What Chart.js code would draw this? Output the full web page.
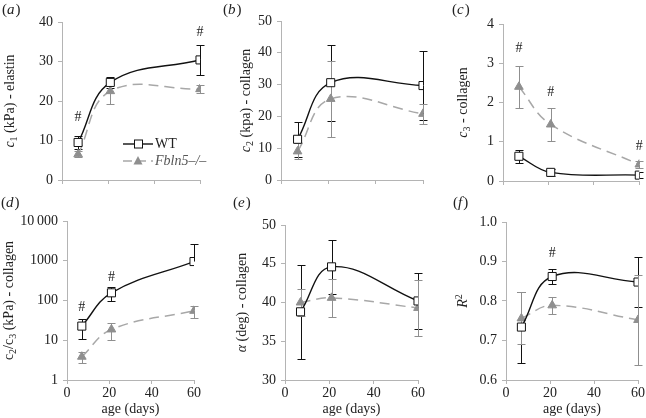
<!DOCTYPE html>
<html><head><meta charset="utf-8">
<script src="https://cdn.jsdelivr.net/npm/chart.js@4.4.0/dist/chart.umd.min.js"></script>
<style>
html,body{margin:0;padding:0;background:#fff}
body{width:646px;height:418px;overflow:hidden;position:relative}
canvas{position:absolute}
</style></head><body>
<canvas id="ca" style="left:0;top:0" width="215" height="200"></canvas>
<canvas id="cb" style="left:215px;top:0" width="215" height="200"></canvas>
<canvas id="cc" style="left:430px;top:0" width="216" height="200"></canvas>
<canvas id="cd" style="left:0;top:190px" width="215" height="228"></canvas>
<canvas id="ce" style="left:215px;top:190px" width="215" height="228"></canvas>
<canvas id="cf" style="left:430px;top:190px" width="216" height="228"></canvas>
<script>
// ---------- data ----------
const ages = [7, 21, 60];
const xTicks = [0, 20, 40, 60];
const xTickLabels = ['0', '20', '40', '60'];

// (a) c1 elastin
const c1WT = [9.5, 24.7, 30.4];
const c1WTerr = [1.6, 1.5, 3.7];
const c1KO = [6.5, 22.5, 23.0];
const c1KOerr = [0.8, 3.3, 1.1];
const yTicksA = [0, 10, 20, 30, 40];
const yLabelsA = ['0', '10', '20', '30', '40'];
const hashAx = [7, 60];
const hashAy = [15.9, 37.5];

// (b) c2 collagen
const c2WT = [12.8, 30.6, 29.7];
const c2WTerr = [5.5, 12.0, 10.8];
const c2KO = [9.0, 25.5, 20.8];
const c2KOerr = [2.5, 12.0, 3.2];
const yTicksB = [0, 10, 20, 30, 40, 50];
const yLabelsB = ['0', '10', '20', '30', '40', '50'];

// (c) c3 collagen
const c3WT = [0.63, 0.22, 0.15];
const c3WTerr = [0.17, 0.08, 0.07];
const c3KO = [2.40, 1.44, 0.42];
const c3KOerr = [0.54, 0.42, 0.08];
const yTicksC = [0, 1, 2, 3, 4];
const yLabelsC = ['0', '1', '2', '3', '4'];
const hashCx = [7, 21, 60];
const hashCy = [3.37, 2.25, 0.89];

// (d) c2/c3 collagen (log)
const ratioWT = [22.7, 156, 955];
const ratioWTerr = [11.7, 57, 1745];
const ratioKO = [3.85, 18.7, 55];
const ratioKOerr = [1.2, 8.8, 18];
const yTicksD = [1, 10, 100, 1000, 10000];
const yLabelsD = ['1', '10', '100', '1000', '10\u2009000'];
const hashDx = [7, 21];
const hashDy = [68.6, 390];

// (e) alpha
const alphaWT = [38.8, 44.6, 40.2];
const alphaWTerr = [6.1, 3.45, 3.6];
const alphaKO = [40.0, 40.6, 39.3];
const alphaKOerr = [1.7, 2.45, 3.6];
const yTicksE = [30, 35, 40, 45, 50];
const yLabelsE = ['30', '35', '40', '45', '50'];

// (f) R^2
const r2WT = [0.734, 0.862, 0.848];
const r2WTerr = [0.09, 0.019, 0.064];
const r2KO = [0.756, 0.789, 0.752];
const r2KOerr = [0.066, 0.022, 0.115];
const yTicksF = [0.6, 0.7, 0.8, 0.9, 1.0];
const yLabelsF = ['0.6', '0.7', '0.8', '0.9', '1.0'];
const hashFx = [21];
const hashFy = [0.9215];

// ---------- styling ----------
const FAM = '"Liberation Serif","Times New Roman",serif';
const AXIS = '#b4b4b4';
const TXT = '#222';
const WTC = '#111';
const KOC = '#8f8f8f';
const KOLINE = '#a8a8a8';

const errorBars = {
  id: 'errorBars',
  beforeDatasetsDraw(chart) {
    const ctx = chart.ctx, xs = chart.scales.x, ys = chart.scales.y;
    chart.data.datasets.forEach(ds => {
      if (!ds.errs) return;
      ctx.save();
      ctx.strokeStyle = ds.errColor; ctx.lineWidth = 1;
      ds.data.forEach((p, j) => {
        const e = ds.errs[j];
        const px = Math.round(xs.getPixelForValue(p.x)) + 0.5;
        const py = ys.getPixelForValue(p.y);
        const hi = Math.round(ys.getPixelForValue(p.y + e)) + 0.5;
        ctx.beginPath();
        ctx.moveTo(px, py); ctx.lineTo(px, hi);
        ctx.moveTo(px - 4, hi); ctx.lineTo(px + 4, hi);
        if (p.y - e > 0 || ys.type !== 'logarithmic') {
          const lo = Math.round(ys.getPixelForValue(p.y - e)) + 0.5;
          ctx.moveTo(px, py); ctx.lineTo(px, lo);
          ctx.moveTo(px - 4, lo); ctx.lineTo(px + 4, lo);
        }
        ctx.stroke();
      });
      ctx.restore();
    });
  }
};

const decor = {
  id: 'decor',
  afterDraw(chart, args, o) {
    const ctx = chart.ctx, xs = chart.scales.x, ys = chart.scales.y, ca = chart.chartArea;
    ctx.save();
    ctx.fillStyle = TXT;
    ctx.textBaseline = 'middle';
    // hashes
    if (o.hx) {
      ctx.font = '14px ' + FAM; ctx.textAlign = 'center';
      o.hx.forEach((hx, i) => ctx.fillText('#', xs.getPixelForValue(hx), ys.getPixelForValue(o.hy[i])));
    }
    // panel label
    ctx.textAlign = 'left';
    let x = o.px;
    ctx.font = '15px ' + FAM; ctx.fillText('(', x, o.py); x += ctx.measureText('(').width;
    ctx.font = 'italic 15px ' + FAM; ctx.fillText(o.letter, x, o.py); x += ctx.measureText(o.letter).width + 1;
    ctx.font = '15px ' + FAM; ctx.fillText(')', x, o.py);
    // y title (rotated rich text)
    const segs = o.title;
    const fontFor = s => (s.i ? 'italic ' : '') + ((s.sub || s.sup) ? '10px ' : '14px ') + FAM;
    let total = 0;
    segs.forEach(s => { ctx.font = fontFor(s); total += ctx.measureText(s.t).width; });
    ctx.translate(o.tx, (ca.top + ca.bottom) / 2);
    ctx.rotate(-Math.PI / 2);
    let cx = -total / 2;
    segs.forEach(s => {
      ctx.font = fontFor(s);
      const dy = s.sub ? 4 : (s.sup ? -4 : 0);
      ctx.fillText(s.t, cx, dy);
      cx += ctx.measureText(s.t).width;
    });
    ctx.restore();
    // legend
    if (o.legend) {
      const L = o.legend;
      ctx.save();
      ctx.lineWidth = 1.4; ctx.strokeStyle = WTC;
      ctx.beginPath(); ctx.moveTo(L.x, L.y1); ctx.lineTo(L.x + 30, L.y1); ctx.stroke();
      ctx.fillStyle = '#fff'; ctx.lineWidth = 1;
      ctx.fillRect(L.x + 11.5, L.y1 - 4, 8, 8); ctx.strokeRect(L.x + 11.5, L.y1 - 4, 8, 8);
      ctx.strokeStyle = KOLINE; ctx.lineWidth = 1.5; ctx.setLineDash([9, 5]);
      ctx.beginPath(); ctx.moveTo(L.x, L.y2); ctx.lineTo(L.x + 30, L.y2); ctx.stroke();
      ctx.setLineDash([]);
      ctx.fillStyle = KOC;
      ctx.beginPath(); ctx.moveTo(L.x + 15, L.y2 - 5); ctx.lineTo(L.x + 19.5, L.y2 + 3.5); ctx.lineTo(L.x + 10.5, L.y2 + 3.5); ctx.closePath(); ctx.fill();
      ctx.textBaseline = 'middle'; ctx.textAlign = 'left';
      ctx.fillStyle = TXT; ctx.font = '14px ' + FAM; ctx.fillText('WT', L.x + 32, L.y1);
      ctx.fillStyle = '#555'; ctx.font = 'italic 14px ' + FAM; ctx.fillText('Fbln5\u2013/\u2013', L.x + 32, L.y2);
      ctx.restore();
    }
  }
};

function makeChart(id, o) {
  const wt = {
    label: 'WT', data: ages.map((a, i) => ({ x: a, y: o.wt[i] })), errs: o.wtErr, errColor: WTC,
    borderColor: WTC, borderWidth: 1.4, tension: 0.4, fill: false,
    pointStyle: 'rect', pointRadius: 5.7, pointBackgroundColor: '#fff', pointBorderColor: WTC, pointBorderWidth: 1
  };
  const ko = {
    label: 'Fbln5\u2013/\u2013', data: ages.map((a, i) => ({ x: a, y: o.ko[i] })), errs: o.koErr, errColor: KOC,
    borderColor: KOLINE, borderWidth: 1.5, borderDash: [10, 6], tension: 0.4, fill: false,
    pointStyle: 'triangle', pointRadius: 5, pointBackgroundColor: KOC, pointBorderColor: KOC, pointBorderWidth: 1
  };
  const tickFont = { family: FAM, size: 14 };
  return new Chart(document.getElementById(id), {
    type: 'line',
    data: { datasets: [wt, ko] },
    options: {
      responsive: false, animation: false, devicePixelRatio: 1,
      layout: { padding: { left: 0, right: o.pr, top: o.top, bottom: 0 } },
      plugins: {
        legend: { display: false }, tooltip: { enabled: false },
        decor: { hx: o.hx, hy: o.hy, letter: o.letter, px: o.lx, py: o.ly, title: o.title, tx: o.tx, legend: o.legend }
      },
      scales: {
        x: {
          type: 'linear', min: 0, max: 60,
          afterBuildTicks: s => { s.ticks = xTicks.map(v => ({ value: v })); },
          ticks: { callback: (v, i) => o.xlab ? xTickLabels[i] : '', font: tickFont, color: TXT, padding: 1, maxRotation: 0, autoSkip: false },
          grid: { drawOnChartArea: false, drawTicks: true, tickLength: 4, color: AXIS },
          border: { color: AXIS },
          title: { display: !!o.xlab, text: 'age (days)', font: { family: FAM, size: 14 }, color: TXT, padding: 0 },
          afterFit: s => { s.height = o.xh; }
        },
        y: {
          type: o.log ? 'logarithmic' : 'linear', min: o.yt[0], max: o.yt[o.yt.length - 1],
          afterBuildTicks: s => { s.ticks = o.yt.map(v => ({ value: v })); },
          ticks: { callback: (v, i) => o.yl[i], font: tickFont, color: TXT, padding: 5, autoSkip: false },
          grid: { drawOnChartArea: false, drawTicks: true, tickLength: 4, color: AXIS },
          border: { color: AXIS },
          afterFit: s => { s.width = o.left; }
        }
      }
    },
    plugins: [errorBars, decor]
  });
}

makeChart('ca', { wt: c1WT, wtErr: c1WTerr, ko: c1KO, koErr: c1KOerr, yt: yTicksA, yl: yLabelsA,
  left: 62, pr: 15, top: 22, xh: 20, hx: hashAx, hy: hashAy, letter: 'a', lx: 2, ly: 10, tx: 10,
  title: [{ t: 'c', i: 1 }, { t: '1', sub: 1 }, { t: ' (kPa) - elastin' }],
  legend: { x: 123, y1: 144, y2: 161 } });
makeChart('cb', { wt: c2WT, wtErr: c2WTerr, ko: c2KO, koErr: c2KOerr, yt: yTicksB, yl: yLabelsB,
  left: 66, pr: 7, top: 21, xh: 20, letter: 'b', lx: 8, ly: 10, tx: 31,
  title: [{ t: 'c', i: 1 }, { t: '2', sub: 1 }, { t: ' (kpa) - collagen' }] });
makeChart('cc', { wt: c3WT, wtErr: c3WTerr, ko: c3KO, koErr: c3KOerr, yt: yTicksC, yl: yLabelsC,
  left: 73, pr: 4, top: 24, xh: 19, hx: hashCx, hy: hashCy, letter: 'c', lx: 22, ly: 10, tx: 33,
  title: [{ t: 'c', i: 1 }, { t: '3', sub: 1 }, { t: ' - collagen' }] });
makeChart('cd', { wt: ratioWT, wtErr: ratioWTerr, ko: ratioKO, koErr: ratioKOerr, yt: yTicksD, yl: yLabelsD, log: true,
  left: 67, pr: 21, top: 31, xh: 38, xlab: true, hx: hashDx, hy: hashDy, letter: 'd', lx: 1, ly: 13, tx: 9,
  title: [{ t: 'c' }, { t: '2', sub: 1 }, { t: '/c' }, { t: '3', sub: 1 }, { t: ' (kPa) - collagen' }] });
makeChart('ce', { wt: alphaWT, wtErr: alphaWTerr, ko: alphaKO, koErr: alphaKOerr, yt: yTicksE, yl: yLabelsE,
  left: 70, pr: 12, top: 35, xh: 38, xlab: true, letter: 'e', lx: 18, ly: 13, tx: 27,
  title: [{ t: '\u03b1', i: 1 }, { t: ' (deg) - collagen' }] });
makeChart('cf', { wt: r2WT, wtErr: r2WTerr, ko: r2KO, koErr: r2KOerr, yt: yTicksF, yl: yLabelsF,
  left: 76, pr: 8, top: 32, xh: 38, xlab: true, hx: hashFx, hy: hashFy, letter: 'f', lx: 23, ly: 13, tx: 33,
  title: [{ t: 'R', i: 1 }, { t: '2', sup: 1 }] });
</script>
</body></html>
